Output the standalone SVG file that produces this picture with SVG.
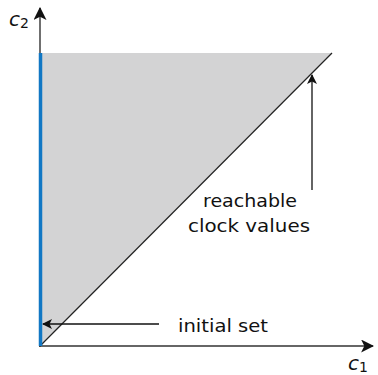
<svg xmlns="http://www.w3.org/2000/svg" width="378" height="375" viewBox="0 0 378 375">
<style>
text{font-family:"DejaVu Sans","Liberation Sans",sans-serif;fill:#111}
.lbl{font-size:18.5px}
.ax{stroke:#333;stroke-width:1.4;fill:none}
.ln{stroke:#111;stroke-width:1.3;fill:none}
</style>
<defs>
<marker id="ah" viewBox="0 0 10 10" refX="9" refY="5" markerWidth="10" markerHeight="10" markerUnits="userSpaceOnUse" orient="auto">
<path d="M0,0 L10,5 L0,10 L2.5,5 Z" fill="#111"/>
</marker>
<marker id="ahb" viewBox="0 0 12 12" refX="11" refY="6" markerWidth="13" markerHeight="13" markerUnits="userSpaceOnUse" orient="auto">
<path d="M0,0 L12,6 L0,12 L3,6 Z" fill="#111"/>
</marker>
</defs>
<g id="region">
<polygon points="40,53 332,53 40,346" fill="#d3d3d4"/>
<line x1="40" y1="346" x2="332" y2="53" stroke="#222" stroke-width="1.2"/>
</g>
<g id="axes">
<line class="ax" x1="40" y1="347" x2="40" y2="8" marker-end="url(#ahb)"/>
<line class="ax" x1="39" y1="346" x2="373" y2="346" marker-end="url(#ahb)"/>
<text x="9" y="26" font-size="20" font-style="italic">c<tspan font-size="14" font-style="normal" dy="2">2</tspan></text>
<text x="348" y="370" font-size="20" font-style="italic">c<tspan font-size="14" font-style="normal" dy="2">1</tspan></text>
</g>
<g id="initial-set">
<line x1="40.5" y1="53" x2="40.5" y2="346" stroke="#1177c4" stroke-width="3.5"/>
</g>
<g id="connectors">
<line class="ln" x1="312" y1="190" x2="312" y2="75" marker-end="url(#ah)"/>
<line class="ln" x1="159" y1="324" x2="43" y2="324" marker-end="url(#ah)"/>
</g>
<g id="label-reachable">
<text class="lbl" x="250" y="207" text-anchor="middle" textLength="94" lengthAdjust="spacingAndGlyphs">reachable</text>
<text class="lbl" x="249" y="232" text-anchor="middle" textLength="122" lengthAdjust="spacingAndGlyphs">clock values</text>
</g>
<g id="label-initial">
<text class="lbl" x="178" y="332" textLength="90" lengthAdjust="spacingAndGlyphs">initial set</text>
</g>
</svg>
